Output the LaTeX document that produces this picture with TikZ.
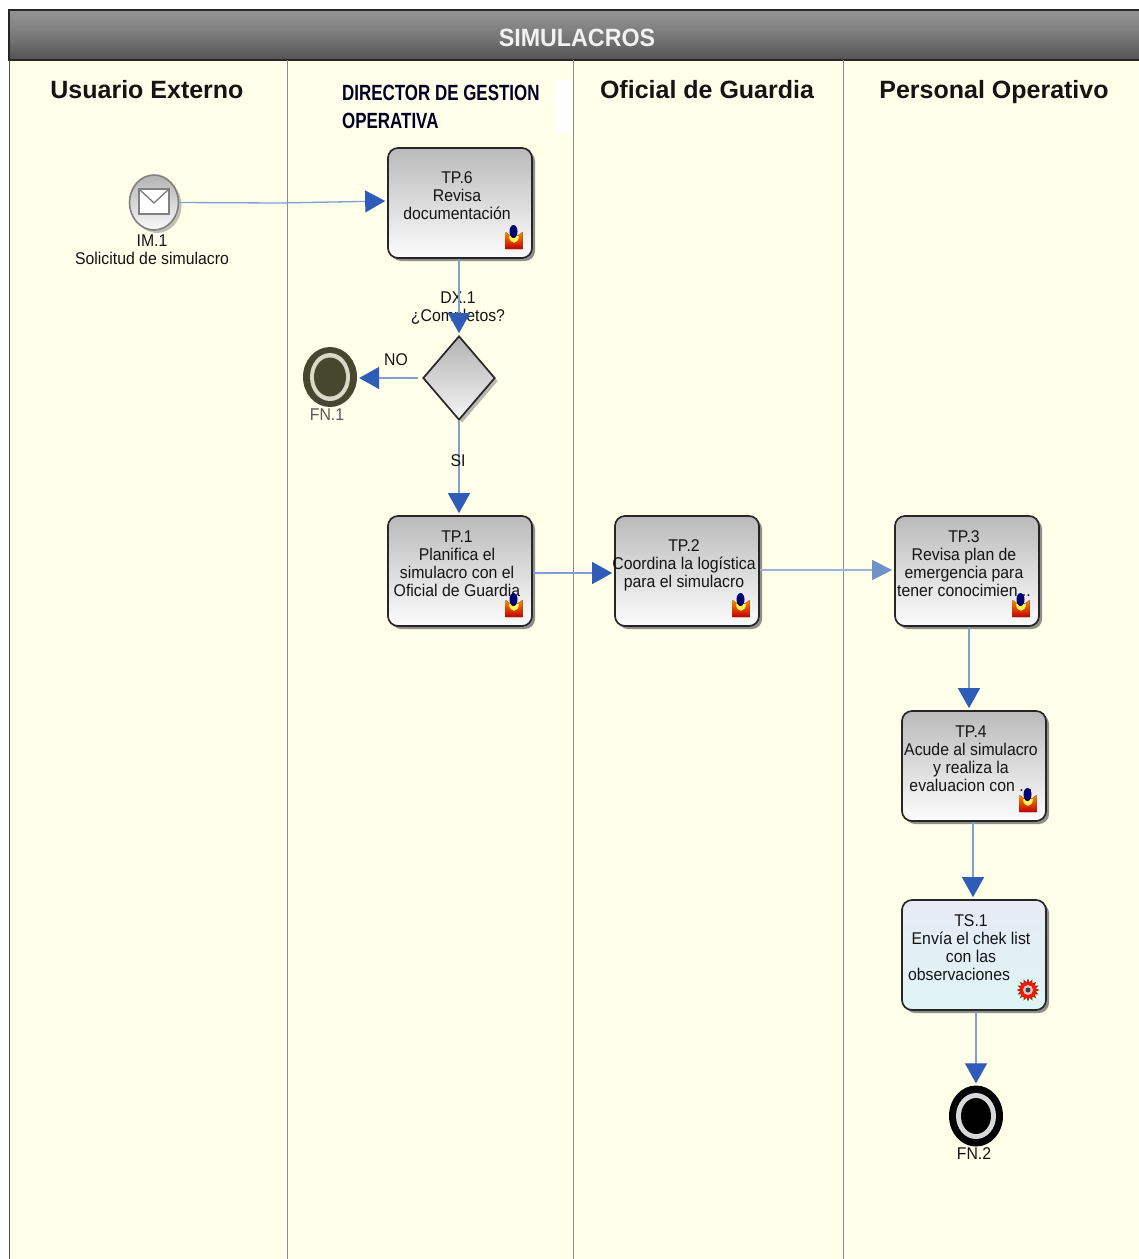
\documentclass[tikz,border=0pt]{standalone}
\usepackage{fontspec}
\setmainfont{Liberation Sans}
\newfontfamily\bodyf[FakeStretch=0.93]{Liberation Sans}
\newfontfamily\rolef[FakeStretch=0.77]{Liberation Sans Bold}
\usetikzlibrary{arrows.meta,shapes.geometric,shadows}
\definecolor{lanebg}{HTML}{FFFFEA}
\definecolor{flowline}{HTML}{7F9FD6}
\definecolor{flowtip}{HTML}{2F5CB8}
\definecolor{flowpale}{HTML}{6F93C9}
\definecolor{darkend}{HTML}{47472F}
\definecolor{servicetop}{HTML}{E6EBF5}
\definecolor{servicebot}{HTML}{DFF4F5}
\newcommand{\tasktext}[1]{\hspace*{-6pt}\begin{tabular}{@{}c@{}}#1\\[-8pt]\mbox{}\end{tabular}}
\tikzset{
  x=1pt,y=-1pt,
  body/.style={font=\bodyf\fontsize{17}{18}\selectfont,text=black!92,align=center,inner sep=0pt},
  lanehead/.style={font=\bfseries\fontsize{25}{28}\selectfont,text=black!92,inner sep=0pt,anchor=base},
  laneline/.style={draw=black!45,line width=.9pt},
  task/.style={body,draw=black!85,line width=1.7pt,rounded corners=10pt,
    minimum width=144pt,minimum height=110pt,top color=black!27,bottom color=black!1,
    drop shadow={shadow xshift=3pt,shadow yshift=-3pt,fill=black!55,opacity=.8}},
  servicetask/.style={task,top color=servicetop,bottom color=servicebot},
  flow/.style={draw=flowline,line width=1.3pt,shorten >=2pt,
    -{Triangle[length=20pt,width=22pt,color=flowtip]}},
  paleflow/.style={draw=flowline!80,line width=1.1pt,shorten >=2pt,
    -{Triangle[length=20pt,width=20pt,color=flowpale]}},
  pics/usericon/.style={code={
    \fill[bottom color=red!75!black,top color=orange!90!yellow]
      (-8.5,-6) .. controls (-6,-4) and (-4,-2) .. (0,-2) .. controls (4,-2) and (6,-4) .. (8.5,-6) -- (8.5,11) -- (-8.5,11) -- cycle;
    \fill[yellow!70!white] (-5,-2) .. controls (-4.5,7) and (4.5,7) .. (5,-2) -- cycle;
    \fill[blue!45!black] (-.5,-6.5) ellipse (4 and 6.5);
  }},
  pics/gearicon/.style={code={
    \foreach \a in {0,22.5,...,337.5}{\fill[black!55!orange] (\a-10:8) -- (\a:11.5) -- (\a+10:8) -- cycle;}
    \fill[red!85!orange] (0,0) circle (8.5);
    \fill[red!15!black!20] (0,0) circle (5);
    \fill[black!75] (0,0) circle (2.5);
  }}
}
\begin{document}
\begin{tikzpicture}
\useasboundingbox (0,0) rectangle (1139,1259);
\clip (0,0) rectangle (1139,1259);
\fill[white] (0,0) rectangle (1139,1259);
% pool
\fill[lanebg] (9,60) rectangle (1139,1259);
\shade[top color=black!42,bottom color=black!68,middle color=black!52] (9,10) rectangle (1139,60);
\draw[black!85,line width=1.6pt] (1145,10) -- (9,10) -- (9,60) -- (1145,60);
\draw[black!70,line width=1pt] (9,60) -- (9,1259);
\draw[laneline] (287,60) -- (287,1259);
\draw[laneline] (573,60) -- (573,1259);
\draw[laneline] (843,60) -- (843,1259);
\fill[white] (556,80) rectangle (571,133);
% heads
\node[font=\bodyf\bfseries\fontsize{25}{26}\selectfont,text=white!95!black,inner sep=0pt] (title) at (577,38) {SIMULACROS};
\node[lanehead] (l1) at (147,98) {Usuario Externo};
\node[font=\rolef\fontsize{22}{28}\selectfont,text=blue!15!black,align=left,inner sep=0pt,anchor=north west] (l2) at (342,85) {DIRECTOR DE GESTION\\OPERATIVA};
\node[lanehead] (l3) at (707,98) {Oficial de Guardia};
\node[lanehead] (l4) at (994,98) {Personal Operativo};
% tasks
\node[task] (tp6) at (460,203) {\tasktext{TP.6\\Revisa\\documentación}};
\node[task] (tp1) at (460,571) {\tasktext{TP.1\\Planifica el\\simulacro con el\\Oficial de Guardia}};
\node[task] (tp2) at (687,571) {\tasktext{TP.2\\Coordina la logística\\para el simulacro}};
\node[task] (tp3) at (967,571) {\tasktext{TP.3\\Revisa plan de\\emergencia para\\tener conocimien...}};
\node[task] (tp4) at (974,766) {\tasktext{TP.4\\Acude al simulacro\\y realiza la\\evaluacion con ...}};
\node[servicetask] (ts1) at (974,955) {\tasktext{TS.1\\Envía el chek list\\con las\\observaciones\hspace*{24pt}}};
% events
\node[ellipse,draw=black!50,line width=1.6pt,minimum width=49pt,minimum height=55pt,inner sep=0pt,
  top color=black!30,bottom color=black!2,
  drop shadow={shadow xshift=3pt,shadow yshift=-3pt,fill=black!50}] (im1) at (154,202.5) {};
\draw[black!50,fill=white,line width=1.4pt] (139,189) rectangle (169,214);
\draw[black!50,line width=1.4pt] (139,189) -- (154,203) -- (169,189);
\node[body] (im1l) at (152,250) {IM.1\\Solicitud de simulacro};

\node[diamond,draw=black!85,line width=1.7pt,minimum width=72pt,minimum height=84pt,inner sep=0pt,aspect=.857,
  top color=black!30,bottom color=black!4,
  drop shadow={shadow xshift=3pt,shadow yshift=-3pt,fill=black!55}] (dx1) at (459,378) {};
\node[body] (dx1l) at (458,308) {DX.1\\¿Completos?};

\node[ellipse,fill=darkend,minimum width=54pt,minimum height=60pt,inner sep=0pt] (fn1) at (330,377) {};
\fill[lanebg!85!black] (fn1.center) ellipse (20 and 24);
\fill[darkend] (fn1.center) ellipse (16 and 19.5);
\node[body,text=black!65] (fn1l) at (327,415) {FN.1};

\node[ellipse,fill=black,minimum width=54pt,minimum height=61pt,inner sep=0pt] (fn2) at (976,1116) {};
\fill[black!15] (fn2.center) ellipse (20 and 23);
\fill[black] (fn2.center) ellipse (15 and 18);
\node[body] (fn2l) at (974,1154) {FN.2};
% icons
\pic at (514,238) {usericon};
\pic at (514,606) {usericon};
\pic at (741,606) {usericon};
\pic at (1021,606) {usericon};
\pic at (1028,801) {usericon};
\pic at (1028,990) {gearicon};
% connectors
\coordinate (bend) at (280,203);
\draw[flow] (im1.east) -- (bend) -- ([yshift=2pt]tp6.west);
\draw[flow] ([xshift=-1pt]tp6.south) -- (dx1.north);
\draw[flow] ([xshift=-4pt]dx1.west) -- (fn1.east |- dx1.west);
\draw[flow] (dx1.south) -- ([xshift=-1pt]tp1.north);
\draw[flow] ([yshift=-2pt]tp1.east) -- ([yshift=-2pt]tp2.west);
\draw[paleflow] ([yshift=1pt]tp2.east) -- ([yshift=1pt]tp3.west);
\draw[flow] ([xshift=2pt]tp3.south) -- ([xshift=-5pt]tp4.north);
\draw[flow] ([xshift=-1pt]tp4.south) -- ([xshift=-1pt]ts1.north);
\draw[flow] ([xshift=2pt]ts1.south) -- (fn2.north);
% flow labels
\node[body] (nolbl) at (396,360) {NO};
\node[body] (silbl) at (458,461) {SI};
\end{tikzpicture}
\end{document}
